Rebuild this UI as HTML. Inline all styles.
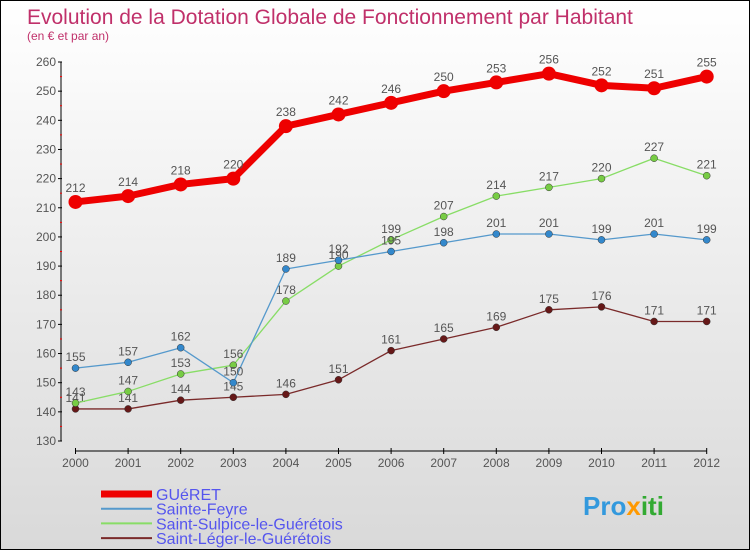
<!DOCTYPE html>
<html><head><meta charset="utf-8"><style>
body{margin:0}
#c{width:748px;height:548px;border:1px solid #000;background:linear-gradient(#fff,#d9d9d9);position:relative;font-family:"Liberation Sans","DejaVu Sans",sans-serif}
</style></head><body>
<div id="c">
<svg id="s" width="748" height="548" style="position:absolute;left:0;top:0">
<text x="26" y="23" font-size="21" fill="#c0306a">Evolution de la Dotation Globale de Fonctionnement par Habitant</text>
<text x="26" y="39" font-size="12" fill="#c0306a">(en € et par an)</text>
<g id="ax"></g><g id="ser"></g><g id="leg"></g>
<text x="582" y="514" font-size="26" font-weight="bold" fill="#3399dd">Pro<tspan fill="#ff9900">x</tspan><tspan fill="#33aa33">iti</tspan></text>
</svg></div>
<script>
const years=[2000,2001,2002,2003,2004,2005,2006,2007,2008,2009,2010,2011,2012];
const gueret=[212,214,218,220,238,242,246,250,253,256,252,251,255];
const feyre=[155,157,162,150,189,192,195,198,201,201,199,201,199];
const sulpice=[143,147,153,156,178,190,199,207,214,217,220,227,221];
const leger=[141,141,144,145,146,151,161,165,169,175,176,171,171];
const yTicks=[130,140,150,160,170,180,190,200,210,220,230,240,250,260];
const NS="http://www.w3.org/2000/svg";
const X=i=>74.5+i*52.6, Y=v=>440-(v-130)*379/130;
function mk(t,a,p){const e=document.createElementNS(NS,t);for(const k in a)e.setAttribute(k,a[k]);p.appendChild(e);return e;}
const ax=document.getElementById('ax');
let l=mk('line',{x1:60,y1:61,x2:60,y2:440,stroke:'#000','stroke-width':1},ax);


l=mk('line',{x1:74,y1:450,x2:706,y2:450,stroke:'#000','stroke-width':1},ax);


yTicks.forEach(v=>{
 mk('line',{x1:57,y1:Y(v),x2:61,y2:Y(v),stroke:'#000'},ax);
 if(v<260)mk('line',{x1:59,y1:Y(v+5),x2:61,y2:Y(v+5),stroke:'#f00'},ax);
 const t=mk('text',{x:55,y:Y(v)+4,'font-size':12,'text-anchor':'end',fill:'#555'},ax);t.textContent=v;
 
 
});
years.forEach((y,i)=>{
 mk('line',{x1:X(i),y1:447,x2:X(i),y2:453,stroke:'#000'},ax);
 const t=mk('text',{x:X(i),y:466,'font-size':12,'text-anchor':'middle',fill:'#555'},ax);t.textContent=y;
 
 
});
const series=[
 {n:'gueret',d:gueret,c:'#ee0000',w:7,r:7,f:'#ee0000',lab:'GUéRET'},
 {n:'sainte-feyre',d:feyre,c:'#5599cc',w:1.3,r:3.5,f:'#3388cc',lab:'Sainte-Feyre'},
 {n:'saint-sulpice',d:sulpice,c:'#88dd66',w:1.3,r:3.5,f:'#77cc44',lab:'Saint-Sulpice-le-Guérétois'},
 {n:'saint-leger',d:leger,c:'#7a2a2a',w:1.3,r:3.5,f:'#661818',lab:'Saint-Léger-le-Guérétois'}];
const sg=document.getElementById('ser');
series.slice().reverse().forEach(s=>{
 const g=mk('g',{},sg);
 
 
 const p=mk('polyline',{points:s.d.map((v,i)=>X(i)+','+Y(v)).join(' '),fill:'none',stroke:s.c,'stroke-width':s.w,'stroke-linejoin':'round'},g);
 
 
 s.d.forEach((v,i)=>{
  const c=mk('circle',{cx:X(i),cy:Y(v),r:s.r,fill:s.f,stroke:s.w>2?'none':'#333','stroke-width':0.5},g);
  
  
  const t=mk('text',{x:X(i),y:Y(v)-(s.w>2?10:7),'font-size':12,'text-anchor':'middle',fill:'#555'},g);t.textContent=v;
  
  
 });
});
const lg=document.getElementById('leg');
series.forEach((s,i)=>{
 const y=493+i*14.7;
 const ln=mk('line',{x1:100,y1:y,x2:151,y2:y,stroke:s.c,'stroke-width':s.w>2?7:2},lg);
 
 
 const t=mk('text',{x:155,y:y+6,'font-size':16,fill:'#5555ee'},lg);t.textContent=s.lab;
 
 
});
</script></body></html>
